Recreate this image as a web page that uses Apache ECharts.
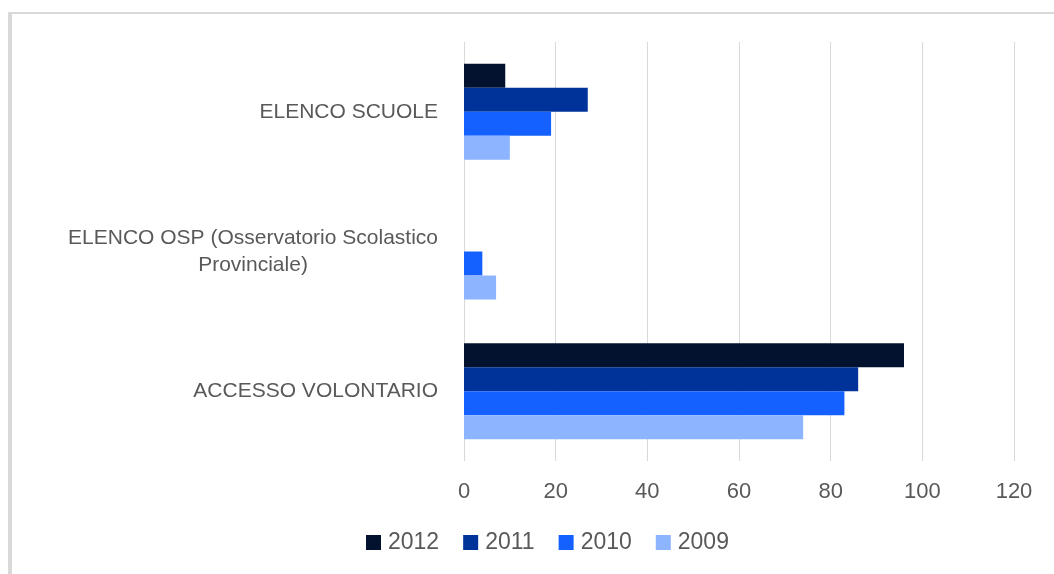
<!DOCTYPE html>
<html>
<head>
<meta charset="utf-8">
<script src="https://cdn.jsdelivr.net/npm/echarts@6/dist/echarts.min.js"></script>
<style>
    html, body { margin: 0; padding: 0; background: #fff; }
    #chart01 { width: 1054px; height: 574px; }
</style>
</head>
<body>
<div id="chart01"></div>
<script>
// 데이터
const categories = ['ELENCO SCUOLE', 'ELENCO OSP (Osservatorio Scolastico\nProvinciale)', 'ACCESSO VOLONTARIO'];
const years = ['2012', '2011', '2010', '2009'];
const val2012 = [9, 0, 96];
const val2011 = [27, 0, 86];
const val2010 = [19, 4, 83];
const val2009 = [10, 7, 74];
const xTicks = [0, 20, 40, 60, 80, 100, 120];

const colors = ['#02122f', '#003399', '#1461ff', '#8db4ff'];
const font = '"Liberation Sans", Arial, sans-serif';

const drawChart01 = () => {
    const chartDom = document.getElementById('chart01');
    const myChart = echarts.init(chartDom);
    const values = [val2012, val2011, val2010, val2009];

    myChart.setOption({
        animation: false,
        textStyle: { fontFamily: font },
        grid: { left: 464, right: 40, top: 42, bottom: 113 },
        legend: {
            bottom: 15,
            left: 361,
            icon: 'rect',
            itemWidth: 15,
            itemHeight: 15,
            itemGap: 24,
            data: years,
            textStyle: { fontFamily: font, fontSize: 23, color: '#595959', padding: [0, 0, 0, 2] }
        },
        xAxis: {
            type: 'value',
            min: xTicks[0],
            max: xTicks[xTicks.length - 1],
            interval: 20,
            axisLine: { show: false },
            axisTick: { show: false },
            axisLabel: { fontFamily: font, fontSize: 22, color: '#595959', margin: 20 },
            splitLine: { lineStyle: { color: '#d9d9d9', width: 1 } }
        },
        yAxis: {
            type: 'category',
            inverse: true,
            data: categories,
            axisLine: { show: false },
            axisTick: { show: false },
            axisLabel: {
                fontFamily: font,
                fontSize: 21,
                color: '#595959',
                margin: 26,
                lineHeight: 27,
                formatter: (v) => {
                    const lines = v.split('\n');
                    if (lines.length === 1) return v;
                    return lines[0] + '\n{c|' + lines[1] + '}';
                },
                rich: {
                    c: { align: 'center', fontFamily: font, fontSize: 21, color: '#595959', lineHeight: 27 }
                }
            }
        },
        series: years.map((y, i) => ({
            name: y,
            type: 'bar',
            data: values[i],
            barWidth: 24,
            barGap: '0%',
            itemStyle: { color: colors[i] }
        })),
        graphic: [
            { type: 'rect', shape: { x: 8, y: 12, width: 4, height: 562 }, style: { fill: '#d9d9d9' } },
            { type: 'rect', shape: { x: 8, y: 12, width: 1046, height: 2 }, style: { fill: '#d9d9d9' } }
        ]
    });

    new ResizeObserver(() => myChart.resize()).observe(chartDom);
};

drawChart01();
</script>
</body>
</html>
